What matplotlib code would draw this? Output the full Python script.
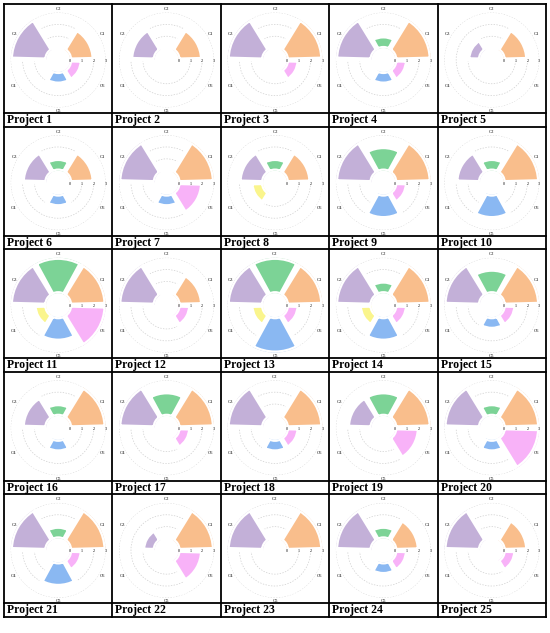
import numpy as np
import matplotlib
matplotlib.use("Agg")
from matplotlib import pyplot as plt
from matplotlib.lines import Line2D
from matplotlib.transforms import offset_copy

# values per category, one entry per project (Project 1..25)
cats = ["C1", "C2", "C3", "C4", "C5", "C6"]
c1 = [2, 2, 3, 3, 2, 2, 3, 2, 3, 3, 3, 2, 3, 3, 3, 3, 3, 3, 3, 3, 3, 3, 3, 2, 2]
c2 = [0, 0, 0, 1, 0, 1, 0, 1, 2, 1, 3, 0, 3, 1, 2, 1, 2, 0, 2, 1, 1, 0, 0, 1, 0]
c3 = [3, 2, 3, 3, 1, 2, 3, 2, 3, 2, 3, 3, 3, 3, 3, 2, 3, 3, 2, 3, 3, 1, 3, 3, 3]
c4 = [0, 0, 0, 0, 0, 0, 0, 1, 0, 0, 1, 0, 1, 1, 0, 0, 0, 0, 0, 0, 0, 0, 0, 0, 0]
c5 = [1, 0, 0, 1, 0, 1, 1, 0, 2, 2, 2, 0, 3, 2, 1, 1, 0, 1, 0, 1, 2, 0, 0, 1, 0]
c6 = [1, 0, 1, 1, 0, 0, 2, 0, 1, 0, 3, 1, 1, 1, 1, 0, 1, 1, 2, 3, 1, 2, 0, 1, 1]
colors = ["#F9BE8C", "#7CD396", "#C3B0D8", "#FAF58C", "#8AB8F2", "#F8B2F8"]
rticks = [0, 1, 2, 3]

W, H = 550, 633
fig = plt.figure(figsize=(W / 100, H / 100), dpi=100)

left, cw = 4, 108.4
top, pitch, ch = 4, 122.6, 109

angles = np.deg2rad([30, 90, 150, 210, 270, 330])
width = np.deg2rad(57)

def fx(x):
    return x / W

def fy(y):
    return 1 - y / H

for i in range(25):
    r, c = divmod(i, 5)
    x0 = left + c * cw
    y0 = top + r * pitch
    cx = x0 + cw / 2
    cy = y0 + 56
    rad = 47.5
    ax = fig.add_axes([fx(cx - rad), fy(cy + rad), 2 * rad / W, 2 * rad / H],
                      projection="polar")
    vals = [c1[i], c2[i], c3[i], c4[i], c5[i], c6[i]]
    # white edges give the even gaps between petals
    ax.bar(angles, vals, width=width, bottom=0, color=colors,
           edgecolor="white", linewidth=3.2, zorder=3)
    ax.set_rorigin(-1)
    ax.set_ylim(0, 3)
    ax.set_yticks(rticks[1:])
    ax.set_yticklabels([])
    ax.tick_params(length=0)
    ax.yaxis.grid(True, color="#cfcfcf", linestyle=(0, (2, 2)), linewidth=0.5)
    ax.set_xticks([])
    ax.xaxis.grid(False)
    # polar draw() turns the inner spine back on, so make it invisible by width
    for s in ax.spines.values():
        s.set_linewidth(0)
        s.set_edgecolor("none")
    ax.patch.set_visible(False)
    tr = offset_copy(ax.transData, fig=fig, x=0, y=-1.0, units="dots")
    for t in rticks:
        ax.text(0, t, str(t), fontsize=3, family="Liberation Serif", transform=tr,
                ha="center", va="center", clip_on=False, zorder=5)
    for a, name in zip(angles, cats):
        ax.text(a, 3.3, name, fontsize=3.3, family="Liberation Serif",
                ha="center", va="center", clip_on=False)
    # project label
    fig.text(fx(x0 + 3), fy(y0 + ch + 7), f"Project {i + 1}", fontsize=8.5,
             family="Liberation Serif", fontweight="bold", ha="left", va="center")

# table borders
right = left + 5 * cw
bottom = top + 5 * pitch
for k in range(6):
    x = left + k * cw
    fig.add_artist(Line2D([fx(x), fx(x)], [fy(top), fy(bottom)], color="black", lw=1.3))
for r in range(5):
    for y in (top + r * pitch, top + r * pitch + ch):
        fig.add_artist(Line2D([fx(left), fx(right)], [fy(y), fy(y)], color="black", lw=1.3))
fig.add_artist(Line2D([fx(left), fx(right)], [fy(bottom), fy(bottom)], color="black", lw=1.3))

fig.savefig("out.png", dpi=100)
